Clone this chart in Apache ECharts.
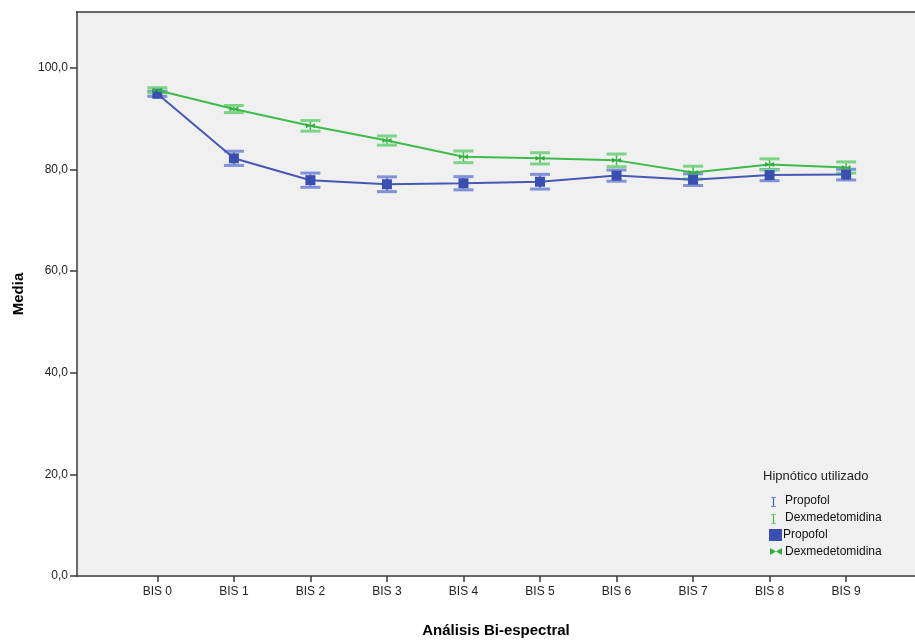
<!DOCTYPE html>
<html>
<head>
<meta charset="utf-8">
<script src="https://cdn.jsdelivr.net/npm/echarts@6/dist/echarts.min.js"></script>
<style>html,body{margin:0;padding:0;background:#fff;}#c{width:915px;height:643px;}</style>
</head>
<body>
<div id="c"></div>
<script>
var categories = ['BIS 0','BIS 1','BIS 2','BIS 3','BIS 4','BIS 5','BIS 6','BIS 7','BIS 8','BIS 9'];
var propofolMean = [94.9, 82.2, 77.9, 77.1, 77.3, 77.6, 78.8, 78.0, 78.9, 79.0];
var propofolErr  = [0.5, 1.4, 1.4, 1.45, 1.3, 1.45, 1.1, 1.15, 1.1, 1.05];
var dexMean      = [95.6, 91.9, 88.6, 85.7, 82.5, 82.2, 81.8, 79.4, 81.0, 80.4];
var dexErr       = [0.5, 0.7, 1.05, 0.9, 1.15, 1.1, 1.25, 1.25, 1.1, 1.1];
var yTicks = [0, 20, 40, 60, 80, 100];

var FONT = "'Liberation Sans', Arial, sans-serif";
var BLUE = '#4659b5', BLUE_CAP = '#8192d6';
var GREEN = '#3dbb4b', GREEN_CAP = '#7bd487';
var catIdx = categories.map(function (c, i) { return i; });

function errData(mean, err) {
  return mean.map(function (m, i) { return [i, m - err[i], m + err[i]]; });
}
function lineData(mean) {
  return mean.map(function (m, i) { return [i, m]; });
}
function errRender(stemColor, capColor) {
  return function (params, api) {
    var x = api.value(0), lo = api.value(1), hi = api.value(2);
    var pLo = api.coord([x, lo]), pHi = api.coord([x, hi]);
    var h = 10;
    return {
      type: 'group',
      children: [
        { type: 'line', shape: { x1: pHi[0], y1: pHi[1], x2: pLo[0], y2: pLo[1] }, style: { stroke: stemColor, lineWidth: 1.5 } },
        { type: 'line', shape: { x1: pHi[0] - h, y1: pHi[1], x2: pHi[0] + h, y2: pHi[1] }, style: { stroke: capColor, lineWidth: 3 } },
        { type: 'line', shape: { x1: pLo[0] - h, y1: pLo[1], x2: pLo[0] + h, y2: pLo[1] }, style: { stroke: capColor, lineWidth: 3 } }
      ]
    };
  };
}
var bowtie = 'path://M0,0 L5,3 L0,6 Z M10,0 L5,3 L10,6 Z';

var chart = echarts.init(document.getElementById('c'));
chart.setOption({
  animation: false,
  textStyle: { fontFamily: FONT },
  grid: { left: 77, top: 12, right: 0, bottom: 66, show: true, backgroundColor: '#f0f0f0', borderWidth: 0 },
  xAxis: {
    type: 'value', min: -1.05, max: 9.9,
    name: 'Análisis Bi-espectral', nameLocation: 'middle', nameGap: 47,
    nameTextStyle: { fontFamily: FONT, fontSize: 15, fontWeight: 'bold', color: '#000' },
    axisLine: { show: true, onZero: false, lineStyle: { color: '#3a3a3a', width: 1.5 } },
    axisTick: { show: true, length: 6, customValues: catIdx, lineStyle: { color: '#3a3a3a', width: 1.5 } },
    axisLabel: { customValues: catIdx, color: '#222', fontSize: 12, fontFamily: FONT, margin: 10,
      formatter: function (v) { return categories[Math.round(v)]; } },
    splitLine: { show: false }
  },
  yAxis: {
    type: 'value', min: 0, max: 111,
    name: 'Media', nameLocation: 'middle', nameGap: 51,
    nameTextStyle: { fontFamily: FONT, fontSize: 15, fontWeight: 'bold', color: '#000' },
    axisLine: { show: true, onZero: false, lineStyle: { color: '#3a3a3a', width: 1.5 } },
    axisTick: { show: true, length: 7, customValues: yTicks, lineStyle: { color: '#3a3a3a', width: 1.5 } },
    axisLabel: { customValues: yTicks, color: '#222', fontSize: 12, fontFamily: FONT, margin: 9,
      formatter: function (v) { return v.toFixed(1).replace('.', ','); } },
    splitLine: { show: false }
  },
  series: [
    { name: 'Propofol IC', type: 'custom', renderItem: errRender(BLUE, BLUE_CAP), data: errData(propofolMean, propofolErr), encode: { x: 0, y: [1, 2] }, z: 2 },
    { name: 'Dexmedetomidina IC', type: 'custom', renderItem: errRender(GREEN, GREEN_CAP), data: errData(dexMean, dexErr), encode: { x: 0, y: [1, 2] }, z: 2 },
    { name: 'Propofol', type: 'line', data: lineData(propofolMean), symbol: 'rect', symbolSize: 10,
      itemStyle: { color: '#3a4fb0' }, lineStyle: { color: BLUE, width: 2 }, z: 3 },
    { name: 'Dexmedetomidina', type: 'line', data: lineData(dexMean), symbol: bowtie, symbolSize: [9, 5],
      itemStyle: { color: '#2fae3e' }, lineStyle: { color: GREEN, width: 2 }, z: 4 }
  ],
  graphic: [
    { type: 'line', shape: { x1: 76, y1: 12, x2: 915, y2: 12 }, style: { stroke: '#3a3a3a', lineWidth: 1.5 } },
    { type: 'text', x: 763, y: 470, style: { text: 'Hipnótico utilizado', font: '13px ' + FONT, fill: '#222' } },
    { type: 'group', x: 770, y: 497, children: [
      { type: 'line', shape: { x1: 3.5, y1: 0, x2: 3.5, y2: 10 }, style: { stroke: BLUE, lineWidth: 1.2 } },
      { type: 'line', shape: { x1: 1, y1: 0.5, x2: 6, y2: 0.5 }, style: { stroke: BLUE_CAP, lineWidth: 1.2 } },
      { type: 'line', shape: { x1: 1, y1: 9.5, x2: 6, y2: 9.5 }, style: { stroke: BLUE_CAP, lineWidth: 1.2 } }
    ] },
    { type: 'text', x: 785, y: 495, style: { text: 'Propofol', font: '12px ' + FONT, fill: '#111' } },
    { type: 'group', x: 770, y: 514, children: [
      { type: 'line', shape: { x1: 3.5, y1: 0, x2: 3.5, y2: 10 }, style: { stroke: GREEN, lineWidth: 1.2 } },
      { type: 'line', shape: { x1: 1, y1: 0.5, x2: 6, y2: 0.5 }, style: { stroke: GREEN_CAP, lineWidth: 1.2 } },
      { type: 'line', shape: { x1: 1, y1: 9.5, x2: 6, y2: 9.5 }, style: { stroke: GREEN_CAP, lineWidth: 1.2 } }
    ] },
    { type: 'text', x: 785, y: 512, style: { text: 'Dexmedetomidina', font: '12px ' + FONT, fill: '#111' } },
    { type: 'rect', x: 769, y: 529, shape: { width: 13, height: 12 }, style: { fill: '#3a4fb0' } },
    { type: 'text', x: 783, y: 529, style: { text: 'Propofol', font: '12px ' + FONT, fill: '#111' } },
    { type: 'polygon', x: 770, y: 548, shape: { points: [[0, 0], [6, 3.5], [0, 7]] }, style: { fill: '#2fae3e' } },
    { type: 'polygon', x: 770, y: 548, shape: { points: [[12, 0], [6, 3.5], [12, 7]] }, style: { fill: '#2fae3e' } },
    { type: 'text', x: 785, y: 546, style: { text: 'Dexmedetomidina', font: '12px ' + FONT, fill: '#111' } }
  ]
});
</script>
</body>
</html>
